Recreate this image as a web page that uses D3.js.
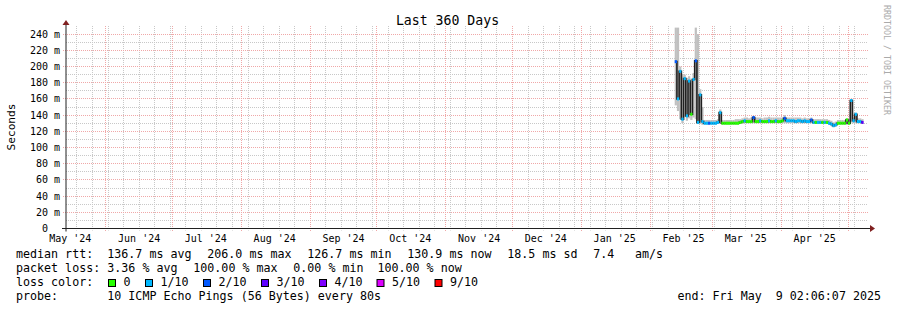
<!DOCTYPE html>
<html>
<head>
<meta charset="utf-8">
<script src="https://cdn.jsdelivr.net/npm/d3@7"></script>
<style>
  body { margin: 0; background: #fff; }
  svg text { font-family: 'DejaVu Sans Mono', monospace; white-space: pre; }
</style>
</head>
<body>
<svg id="chart" width="897" height="310"></svg>
<script>
// time window of the graph
const endTime = new Date(Date.UTC(2025, 4, 9, 2, 6, 7))
const startTime = new Date(endTime.getTime() - 360 * 864e5)
// first day with data, one value per day after that
const firstDay = new Date(Date.UTC(2025, 1, 12, 12))

// median rtt per day (ms)
const median = [
  206, 160, 194, 135, 185, 139, 182, 141, 184, 207, 131, 165, 132, 130,
  130, 130, 130, 130, 130, 131, 143, 130, 130, 130, 130, 130, 130, 130,
  130, 131, 132, 133, 132, 132, 132, 137, 132, 132, 133, 132, 132, 132,
  133, 132, 132, 133, 132, 132, 133, 136, 133, 133, 133, 133, 132, 133,
  133, 132, 133, 132, 132, 134, 131, 131, 131, 131, 131, 131, 131, 130,
  129, 127, 128, 130, 130, 130, 130, 134, 130, 158, 133, 141, 132, 132,
  131
]
// smoke band (lowest / highest ping of the day, ms)
const smokeLo = [
  152, 145, 135, 130, 138, 133, 136, 134, 137, 135, 129, 130, 128, 128,
  128, 128, 128, 128, 128, 129, 130, 128, 128, 128, 128, 128, 128, 128,
  128, 129, 129, 130, 130, 130, 130, 130, 130, 130, 130, 130, 130, 130,
  130, 130, 130, 130, 130, 130, 130, 130, 130, 130, 130, 130, 130, 130,
  130, 130, 130, 130, 130, 131, 129, 129, 129, 129, 129, 129, 129, 128,
  127, 125, 126, 128, 128, 128, 128, 128, 128, 131, 130, 130, 130, 130,
  129
]
const smokeHi = [
  248, 248, 200, 190, 190, 186, 188, 185, 192, 248, 240, 172, 150, 134,
  134, 134, 134, 134, 134, 135, 147, 134, 134, 134, 134, 134, 134, 135,
  135, 135, 136, 137, 137, 136, 137, 139, 137, 137, 137, 136, 137, 137,
  138, 137, 137, 137, 137, 137, 137, 140, 137, 137, 137, 137, 137, 137,
  137, 136, 137, 136, 136, 137, 135, 135, 135, 135, 135, 135, 135, 134,
  133, 131, 132, 134, 134, 134, 134, 136, 135, 160, 137, 143, 136, 136,
  135
]
// packet loss level per day (index into lossColors)
const loss = [
  2, 1, 1, 1, 1, 1, 1, 0, 1, 2, 1, 1, 1, 1,
  1, 2, 1, 1, 1, 1, 1, 0, 0, 0, 0, 0, 0, 0,
  0, 0, 0, 1, 0, 0, 0, 2, 0, 0, 1, 0, 0, 0,
  1, 0, 0, 1, 0, 0, 0, 2, 1, 1, 1, 1, 1, 1,
  1, 1, 1, 1, 1, 2, 1, 0, 1, 1, 0, 1, 0, 1,
  1, 1, 1, 0, 0, 0, 0, 0, 0, 1, 1, 1, 1, 1,
  3
]

const lossColors = ['#26ff00', '#00b8ff', '#0059ff', '#5e00ff', '#7e00ff', '#dd00ff', '#ff0000']
const lossLabels = ['0', '1/10', '2/10', '3/10', '4/10', '5/10', '9/10']
const yTicks = [0, 20, 40, 60, 80, 100, 120, 140, 160, 180, 200, 220, 240]

const legendRows = [
  [['median rtt:', 16], ['136.7 ms avg', 107.3], ['206.0 ms max', 207.3], ['126.7 ms min', 307.3],
    ['130.9 ms now', 407.3], ['18.5 ms sd', 507.3], ['7.4', 593.3], ['am/s', 635]],
  [['packet loss:', 16], ['3.36 % avg', 107.3], ['100.00 % max', 193.3], ['0.00 % min', 293.3],
    ['100.00 % now', 377.5]],
  [['loss color:', 16]],
  [['probe:', 16], ['10 ICMP Echo Pings (56 Bytes) every 80s', 107.3]]
]
const boxX = [108.5, 145.5, 203.5, 261.5, 319.5, 377, 435]

const svg = d3.select('#chart')
const plotL = 66
const plotR = 866
const plotT = 26
const plotB = 228.5

const x = d3.scaleUtc().domain([startTime, endTime]).range([plotL, plotR])
const y = d3.scaleLinear().domain([0, 250]).range([plotB, plotT])
const snap = v => Math.floor(v) + 0.5

const days = median.map((_, i) => d3.utcDay.offset(firstDay, i))
const dayW = x(d3.utcDay.offset(startTime, 1)) - x(startTime)

// grid
const grid = svg.append('g')
const weeks = d3.utcSunday.range(startTime, endTime)
const months = d3.utcMonth.range(startTime, endTime)

grid.selectAll('line.vmin').data(weeks).join('line')
  .attr('x1', d => snap(x(d))).attr('x2', d => snap(x(d)))
  .attr('y1', plotT).attr('y2', plotB + 2)
  .attr('stroke', '#c8c8c8').attr('stroke-dasharray', '1,1')

d3.range(10, 250, 10).forEach(v => {
  const major = v % 20 === 0
  grid.append('line')
    .attr('x1', major ? plotL - 3 : plotL).attr('x2', plotR + 2)
    .attr('y1', snap(y(v))).attr('y2', snap(y(v)))
    .attr('stroke', major ? '#f0a8a8' : '#c8c8c8')
    .attr('stroke-dasharray', '1,1')
})

grid.selectAll('line.vmaj').data(months).join('line')
  .attr('x1', d => snap(x(d))).attr('x2', d => snap(x(d)))
  .attr('y1', plotT).attr('y2', plotB + 3)
  .attr('stroke', '#f0a8a8').attr('stroke-dasharray', '1,1')

// smoke
svg.append('g').selectAll('rect').data(days).join('rect')
  .attr('x', d => x(d) - dayW / 2)
  .attr('width', dayW)
  .attr('y', (d, i) => y(smokeHi[i]))
  .attr('height', (d, i) => y(smokeLo[i]) - y(smokeHi[i]))
  .attr('fill', '#c0c0c0')

// median line
svg.append('path')
  .datum(days)
  .attr('d', d3.line().x(d => x(d)).y((d, i) => y(median[i])).curve(d3.curveStep))
  .attr('fill', 'none')
  .attr('stroke', '#202020')
  .attr('stroke-width', 1.6)

// loss coloured marks on the median
svg.append('g').selectAll('rect').data(days).join('rect')
  .attr('x', d => x(d) - dayW / 2)
  .attr('width', dayW)
  .attr('y', (d, i) => y(median[i]) - 1.5)
  .attr('height', 3)
  .attr('fill', (d, i) => lossColors[loss[i]])

// axes
svg.append('line')
  .attr('x1', plotL).attr('x2', plotL)
  .attr('y1', plotT - 2).attr('y2', plotB + 3)
  .attr('stroke', '#202020')
svg.append('path')
  .attr('d', `M${plotL - 3.5},${plotT - 1} L${plotL + 3.5},${plotT - 1} L${plotL},${plotT - 6}Z`)
  .attr('fill', '#802020')
svg.append('line')
  .attr('x1', plotL - 4).attr('x2', plotR + 4)
  .attr('y1', plotB).attr('y2', plotB)
  .attr('stroke', '#202020')
svg.append('path')
  .attr('d', `M${plotR + 4},${plotB - 3.5} L${plotR + 4},${plotB + 3.5} L${plotR + 9},${plotB}Z`)
  .attr('fill', '#802020')

// y labels
svg.append('g').selectAll('text').data(yTicks).join('text')
  .attr('x', d => d === 0 ? 48 : 60)
  .attr('y', d => y(d))
  .attr('dy', '0.35em')
  .attr('text-anchor', 'end')
  .attr('font-size', '10px')
  .text(d => d === 0 ? '0' : d + ' m')

// x labels, centred half a month after the month start
const labelMonths = d3.utcMonth.range(d3.utcMonth.floor(startTime), endTime)
  .filter(d => d3.utcDay.offset(d, 15) <= endTime)
svg.append('g').selectAll('text').data(labelMonths).join('text')
  .attr('x', d => x(d3.utcDay.offset(d, 15)))
  .attr('y', 241.5)
  .attr('text-anchor', 'middle')
  .attr('font-size', '10px')
  .text(d => d3.utcFormat("%b '%y")(d))

// titles
svg.append('text')
  .attr('x', 447.5).attr('y', 24.5)
  .attr('text-anchor', 'middle')
  .attr('font-size', '13.2px')
  .text('Last 360 Days')

svg.append('text')
  .attr('transform', 'translate(14.5,127) rotate(-90)')
  .attr('text-anchor', 'middle')
  .attr('font-size', '11.2px')
  .text('Seconds')

svg.append('text')
  .attr('transform', 'translate(884,5) rotate(90)')
  .attr('font-size', '8.3px')
  .attr('fill', '#aaaaaa')
  .text('RRDTOOL / TOBI OETIKER')

// legend
const rowY = [254.3, 268.3, 282.3, 296.3]
legendRows.forEach((row, r) => {
  row.forEach(([t, tx]) => {
    svg.append('text')
      .attr('x', tx).attr('y', rowY[r])
      .attr('dy', '0.35em')
      .attr('font-size', '11.67px')
      .text(t)
  })
})

lossColors.forEach((c, i) => {
  svg.append('rect')
    .attr('x', boxX[i]).attr('y', 279.5)
    .attr('width', 7).attr('height', 7)
    .attr('fill', c).attr('stroke', '#000')
  svg.append('text')
    .attr('x', boxX[i] + 15).attr('y', rowY[2])
    .attr('dy', '0.35em')
    .attr('font-size', '11.67px')
    .text(lossLabels[i])
})

svg.append('text')
  .attr('x', 881).attr('y', rowY[3])
  .attr('dy', '0.35em')
  .attr('text-anchor', 'end')
  .attr('font-size', '11.67px')
  .text('end: Fri May  9 02:06:07 2025')
</script>
</body>
</html>
